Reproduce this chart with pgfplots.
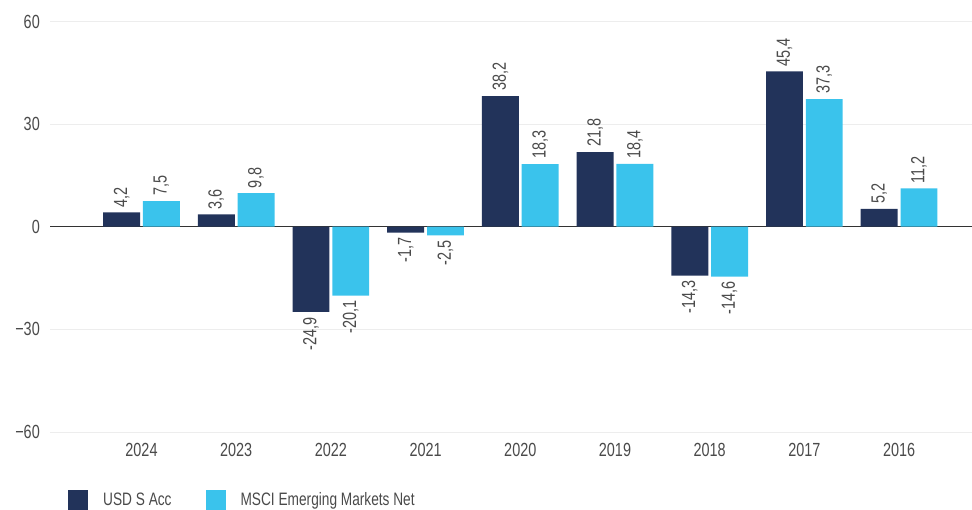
\documentclass[border=0pt]{standalone}
\usepackage{pgfplots}
\pgfplotsset{compat=1.18}
\usepackage{pgfplotstable}
\usepackage{fontspec}
\setmainfont{Liberation Sans}[FakeStretch=0.76]
\definecolor{navy}{HTML}{22335A}
\definecolor{sky}{HTML}{3AC3EC}
\definecolor{txt}{HTML}{4A4A4A}
\definecolor{gridc}{HTML}{EDEDED}

\pgfplotstableread{
x usd msci usdl mscil
0 4.2 7.5 4,2 7,5
1 3.6 9.8 3,6 9,8
2 -24.9 -20.1 -24,9 -20,1
3 -1.7 -2.5 -1,7 -2,5
4 38.2 18.3 38,2 18,3
5 21.8 18.4 21,8 18,4
6 -14.3 -14.6 -14,3 -14,6
7 45.4 37.3 45,4 37,3
8 5.2 11.2 5,2 11,2
}\data

\begin{document}
\begin{tikzpicture}
\begin{axis}[
  at={(50pt,77pt)}, anchor=south west,
  scale only axis,
  width=922pt, height=410.5pt,
  xmin=-0.966, xmax=8.77,
  ymin=-60, ymax=60,
  ybar, bar width=0.39,
  xtick=data,
  xticklabels={2024,2023,2022,2021,2020,2019,2018,2017,2016},
  ytick={-60,-30,0,30,60},
  yticklabels={−60,−30,0,30,60},
  axis line style={draw=none},
  major tick length=0pt,
  ymajorgrids,
  grid style={gridc, line width=1pt},
  extra y ticks={0},
  extra y tick labels={},
  extra y tick style={grid style={draw=black!80, line width=1.3pt}},
  tick label style={font=\fontsize{19}{22}\selectfont, text=txt},
  xticklabel style={inner sep=0pt, anchor=north, yshift=-11pt},
  yticklabel style={inner sep=0pt, anchor=east, xshift=-10pt},
  legend style={draw=none, fill=none, at={(0.0195,-0.1657)}, anchor=west,
    font=\fontsize{18}{21}\selectfont, text=txt,
    legend columns=-1, inner sep=0pt,
    /tikz/every even column/.append style={column sep=34pt},
    /tikz/every odd column/.append style={column sep=15pt},
    nodes={inner sep=0pt}},
  legend image code/.code={\fill[#1] (0pt,-10pt) rectangle (20pt,10pt);},
  point meta=explicit symbolic,
  every node near coord/.append style={font=\fontsize{19}{22}\selectfont, text=txt, rotate=90},
]
\addplot[fill=navy, draw=none, bar shift=-0.21] table[x=x, y=usd] {\data};
\addlegendentry{USD S Acc}
\addplot[fill=sky, draw=none, bar shift=0.21] table[x=x, y=msci] {\data};
\addlegendentry{MSCI Emerging Markets Net}
% labels
\addplot[draw=none, fill=none, bar shift=-0.21, forget plot, restrict y to domain=0:100,
  nodes near coords, every node near coord/.append style={anchor=west, inner sep=5pt}]
  table[x=x, y=usd, meta=usdl] {\data};
\addplot[draw=none, fill=none, bar shift=-0.21, forget plot, restrict y to domain=-100:0,
  nodes near coords, every node near coord/.append style={anchor=east, inner sep=5pt}]
  table[x=x, y=usd, meta=usdl] {\data};
\addplot[draw=none, fill=none, bar shift=0.21, forget plot, restrict y to domain=0:100,
  nodes near coords, every node near coord/.append style={anchor=west, inner sep=5pt}]
  table[x=x, y=msci, meta=mscil] {\data};
\addplot[draw=none, fill=none, bar shift=0.21, forget plot, restrict y to domain=-100:0,
  nodes near coords, every node near coord/.append style={anchor=east, inner sep=5pt}]
  table[x=x, y=msci, meta=mscil] {\data};
\end{axis}
\pgfresetboundingbox
\path (0pt,0pt) rectangle (972pt,509pt);
\end{tikzpicture}
\end{document}
